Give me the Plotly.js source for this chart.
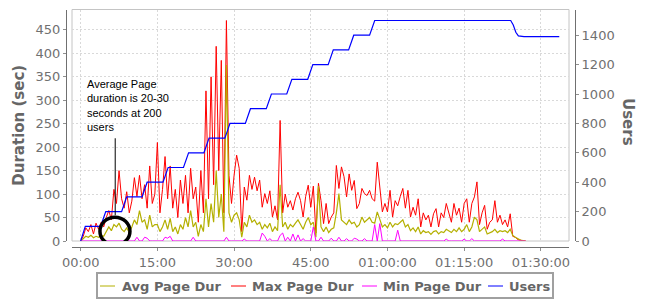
<!DOCTYPE html>
<html>
<head>
<meta charset="utf-8">
<script src="https://cdn.plot.ly/plotly-3.0.1.min.js"></script>
<style>html,body{margin:0;padding:0;background:#fff;}#chart{width:650px;height:300px;}</style>
</head>
<body>
<div id="chart"></div>
<script>
// elapsed time in minutes
const minutes = [
  0,0.5,1,1.5,2,2.5,3,3.5,4,4.5,
  5,5.5,6,6.5,7,7.5,8,8.5,9,9.5,
  10,10.5,11,11.5,12,12.5,13,13.5,14,14.5,
  15,15.5,16,16.5,17,17.5,18,18.5,19,19.5,
  20,20.5,21,21.5,22,22.5,23,23.5,24,24.5,
  25,25.5,26,26.5,27,27.5,28,28.5,29,29.5,
  30,30.5,31,31.5,32,32.5,33,33.5,34,34.5,
  35,35.5,36,36.5,37,37.5,38,38.5,39,39.5,
  40,40.5,41,41.5,42,42.5,43,43.5,44,44.5,
  45,45.5,46,46.5,47,47.5,48,48.5,49,49.5,
  50,50.5,51,51.5,52,52.5,53,53.5,54,54.5,
  55,55.5,56,56.5,57,57.5,58,58.5,59,59.5,
  60,60.5,61,61.5,62,62.5,63,63.5,64,64.5,
  65,65.5,66,66.5,67,67.5,68,68.5,69,69.5,
  70,70.5,71,71.5,72,72.5,73,73.5,74,74.5,
  75,75.5,76,76.5,77,77.5,78,78.5,79,79.5,
  80,80.5,81,81.5,82,82.5,83,83.5,84,84.5,
  85,85.5,86,86.5,87
];
const maxPageDur = [
  0,10,28,20,35,15,38,25,40,30,
  50,65,45,110,80,150,90,70,105,60,
  85,135,95,140,90,120,70,160,80,100,
  210,60,110,180,90,160,70,110,50,130,
  80,140,60,155,90,115,40,150,60,320,
  90,350,120,415,150,385,60,470,140,80,
  140,183,155,20,115,87,140,110,136,107,
  130,72,101,80,107,51,75,45,257,60,
  100,72,86,66,90,104,86,51,95,119,
  72,117,17,123,86,37,80,37,51,60,
  161,112,158,137,94,143,108,129,69,80,
  112,101,97,108,90,85,168,112,62,80,
  62,108,51,86,75,95,112,70,108,51,
  72,55,90,30,60,45,55,30,58,69,
  30,60,50,80,62,40,80,55,70,40,
  80,90,40,80,94,126,35,60,76,25,
  40,45,86,40,55,35,45,30,58,10,
  8,3,2,0,0
];
const avgPageDur = [
  0,5,10,8,12,7,10,8,12,10,
  20,30,22,35,30,38,25,20,28,18,
  30,45,35,65,40,45,25,55,30,35,
  35,20,30,45,25,48,20,30,15,35,
  25,50,30,65,30,40,10,35,20,90,
  30,80,40,150,50,100,20,375,60,40,
  55,60,45,8,40,30,55,40,45,35,
  40,25,35,28,38,20,30,22,120,30,
  40,25,35,30,38,45,35,25,40,50,
  35,40,8,117,30,20,30,18,25,28,
  60,101,45,40,35,45,37,40,30,35,
  51,40,45,50,40,38,62,45,30,35,
  28,40,30,37,35,40,45,30,35,22,
  28,20,30,15,22,18,20,14,20,22,
  15,20,18,25,22,18,25,20,28,20,
  25,35,20,30,51,45,20,25,30,15,
  18,20,25,18,22,20,22,18,25,12,
  8,4,2,1,0
];
const minPageDur = [
  0,0,0,0,0,0,0,0,0,0,
  0,0,0,0,0,0,0,0,0,0,
  0,0,8,0,0,8,6,0,0,0,
  0,0,0,8,6,10,0,0,0,0,
  0,0,0,0,8,0,0,0,0,0,
  0,0,0,0,0,0,0,8,0,0,
  0,0,0,0,4,0,0,0,0,0,
  0,17,10,0,5,0,0,0,12,17,
  0,8,0,15,0,13,0,5,0,0,
  0,30,0,0,8,0,0,0,6,0,
  0,8,0,0,5,0,0,6,4,0,
  0,5,0,0,0,35,0,37,0,0,
  0,0,0,0,23,0,0,0,0,0,
  0,0,0,0,0,0,0,0,0,0,
  0,0,0,4,0,0,0,0,0,0,
  4,0,0,5,0,0,0,0,0,0,
  0,0,0,0,0,4,0,0,0,0,
  0,0,0,0,0
];
// users ramp (minutes, users)
const userMinutes = [0,0.9,3.9,4.9,8.0,9.0,12.0,13.0,16.1,17.1,20.1,21.1,24.1,25.1,28.2,29.2,32.2,33.2,36.3,37.3,40.3,41.3,44.4,45.4,48.4,49.4,52.4,53.4,56.5,57.5,84.1,84.6,85.1,85.6,86.7,93.6];
const users = [0,100,100,200,200,300,300,400,400,500,500,600,600,700,700,800,800,900,900,1000,1000,1100,1100,1200,1200,1300,1300,1400,1400,1500,1500,1470,1420,1395,1390,1390];

const xTickVals = [0,15,30,45,60,75,90];
const xTickText = ['00:00','15:00','30:00','45:00','01:00:00','01:15:00','01:30:00'];

const seriesNames = ['Avg Page Dur','Max Page Dur','Min Page Dur','Users'];
const seriesColors = ['#b4b000','#ff0000','#ff00ff','#0000ff'];

const traces = [
  {x: minutes, y: maxPageDur, name: seriesNames[1], type: 'scatter', mode: 'lines',
   line: {color: seriesColors[1], width: 1}, hoverinfo: 'skip'},
  {x: minutes, y: avgPageDur, name: seriesNames[0], type: 'scatter', mode: 'lines',
   line: {color: seriesColors[0], width: 1.2}, hoverinfo: 'skip'},
  {x: minutes, y: minPageDur, name: seriesNames[2], type: 'scatter', mode: 'lines',
   line: {color: seriesColors[2], width: 1}, hoverinfo: 'skip'},
  {x: userMinutes, y: users, name: seriesNames[3], yaxis: 'y2', type: 'scatter', mode: 'lines',
   line: {color: seriesColors[3], width: 1.2}, hoverinfo: 'skip'}
];

const axisFont = {family: 'DejaVu Sans', size: 13, color: '#707070'};
const titleFont = {family: 'DejaVu Sans', size: 15, color: '#666666', weight: 'bold'};
const legendFont = {family: 'DejaVu Sans', size: 13, color: '#666666', weight: 'bold'};

// page-pixel -> paper conversion (paper area: x 66..575, y 9..247)
const M = {l: 66, r: 75, t: 9, b: 53};
const PW = 650 - M.l - M.r, PH = 300 - M.t - M.b;
const px = v => (v - M.l) / PW;
const py = v => (300 - M.b - v) / PH;

// manual legend (box, line samples, labels)
const legendSampleX = [100, 231, 362, 488];
const legendTextX = [120, 250, 381, 507];
const legendY = 286;
const legendOrder = [0, 1, 2, 3];

const shapes = [
  {type: 'rect', xref: 'x domain', yref: 'y domain', x0: 0, x1: 1, y0: 0, y1: 1,
   line: {color: '#c4c4c4', width: 1}, layer: 'below'},
  {type: 'line', xref: 'x', yref: 'y', x0: 6.75, x1: 6.75, y0: 55, y1: 219,
   line: {color: '#000000', width: 1}},
  {type: 'circle', xref: 'x', yref: 'y', xsizemode: 'pixel', ysizemode: 'pixel',
   xanchor: 6.7, yanchor: 21, x0: -15, x1: 15, y0: -14, y1: 14,
   line: {color: '#000000', width: 3.5}},
  {type: 'rect', xref: 'paper', yref: 'paper', x0: px(97), x1: px(553), y0: py(298), y1: py(273),
   line: {color: '#a0a0a0', width: 2}, fillcolor: 'rgba(0,0,0,0)'}
];
const annotations = [
  {xref: 'x', yref: 'y', x: 0.8, y: 352, xanchor: 'left', yanchor: 'top', align: 'left',
   showarrow: false, text: 'Average Page<br>duration is 20-30<br>seconds at 200<br>users',
   font: {family: 'Liberation Sans', size: 11, color: '#000000'}},
  {xref: 'paper', yref: 'paper', x: px(628), y: py(122), xanchor: 'center', yanchor: 'middle',
   showarrow: false, text: 'Users', textangle: 90, font: titleFont}
];
legendOrder.forEach(i => {
  shapes.push({type: 'line', xref: 'paper', yref: 'paper',
    x0: px(legendSampleX[i]), x1: px(legendSampleX[i] + 15), y0: py(legendY), y1: py(legendY),
    line: {color: seriesColors[i], width: 1}});
  annotations.push({xref: 'paper', yref: 'paper', x: px(legendTextX[i]), y: py(legendY),
    xanchor: 'left', yanchor: 'middle', showarrow: false, text: seriesNames[i], font: legendFont});
});

const layout = {
  width: 650, height: 300,
  margin: {l: M.l, r: M.r, t: M.t, b: M.b, pad: 0},
  paper_bgcolor: '#ffffff', plot_bgcolor: '#ffffff',
  font: axisFont,
  showlegend: false,
  xaxis: {
    domain: [px(72), px(569)], range: [-1.7, 95.5], anchor: 'free', position: 0,
    tickmode: 'array', tickvals: xTickVals, ticktext: xTickText, tickfont: axisFont,
    showgrid: true, gridcolor: '#d9d9d9', griddash: '2px,2px', gridwidth: 1,
    showline: true, linecolor: '#707070', linewidth: 1,
    ticks: 'outside', ticklen: 3, tickcolor: '#909090', zeroline: false, automargin: false
  },
  yaxis: {
    domain: [py(241), py(9.5)], range: [0, 493.5], anchor: 'free', position: 0,
    tick0: 0, dtick: 50, tickfont: axisFont,
    showgrid: true, gridcolor: '#d9d9d9', griddash: '2px,2px', gridwidth: 1,
    showline: true, linecolor: '#707070', linewidth: 1,
    ticks: 'outside', ticklen: 3, tickcolor: '#909090', zeroline: false, automargin: false,
    title: {text: 'Duration (sec)', font: titleFont, standoff: 6}
  },
  yaxis2: {
    overlaying: 'y', side: 'right', anchor: 'free', position: 1,
    range: [0, 1575], tick0: 0, dtick: 200, tickfont: axisFont,
    showgrid: false, showline: true, linecolor: '#707070', linewidth: 1,
    ticks: 'outside', ticklen: 3, tickcolor: '#909090', zeroline: false, automargin: false
  },
  shapes: shapes,
  annotations: annotations
};

Plotly.newPlot('chart', traces, layout, {displayModeBar: false, staticPlot: true});
</script>
</body>
</html>
